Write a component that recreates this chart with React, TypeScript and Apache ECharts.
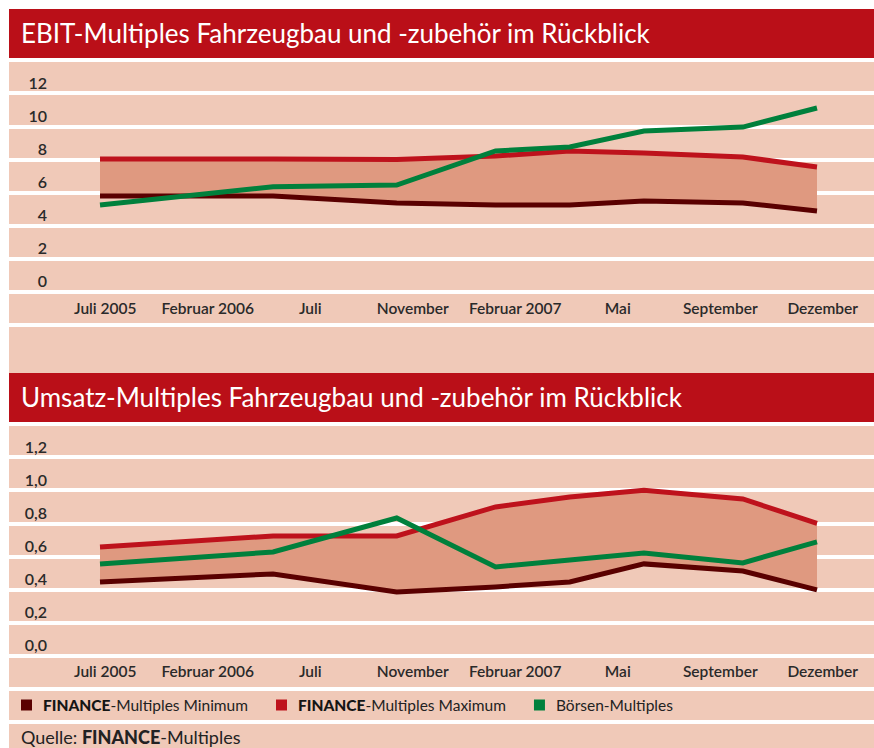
import React, { useEffect, useRef } from 'react';
import * as echarts from 'echarts';

// Category labels on the x axis (evenly spaced in the original)
const categories = ['Juli 2005', 'Februar 2006', 'Juli', 'November', 'Februar 2007', 'Mai', 'September', 'Dezember'];
// Months since Juli 2005 at which the data points were taken
const months = [0, 7, 12, 16, 19, 22, 26, 29];

// EBIT-Multiples
const ebitMin = [5.79, 5.79, 5.37, 5.25, 5.25, 5.49, 5.37, 4.88];
const ebitMax = [8.02, 8.02, 8.0, 8.2, 8.51, 8.38, 8.14, 7.54];
const ebitBoerse = [5.25, 6.35, 6.45, 8.51, 8.75, 9.71, 9.95, 11.1];

// Umsatz-Multiples
const umsatzMin = [0.446, 0.494, 0.386, 0.416, 0.446, 0.555, 0.512, 0.398];
const umsatzMax = [0.657, 0.724, 0.724, 0.899, 0.959, 1.0, 0.947, 0.8];
const umsatzBoerse = [0.555, 0.627, 0.832, 0.537, 0.579, 0.621, 0.561, 0.688];

// Visible tick labels
const ebitTicks = [0, 2, 4, 6, 8, 10, 12];
const umsatzTicks = [0, 0.2, 0.4, 0.6, 0.8, 1.0, 1.2];

const titleTop = 'EBIT-Multiples Fahrzeugbau und -zubehör im Rückblick';
const titleBottom = 'Umsatz-Multiples Fahrzeugbau und -zubehör im Rückblick';
const nameMin = 'FINANCE-Multiples Minimum';
const nameMax = 'FINANCE-Multiples Maximum';
const nameBoerse = 'Börsen-Multiples';

const PINK = '#F0C9B8';
const BAND = '#DF9980';
const TITLE_RED = '#BA0F18';
const RED = '#BE121C';
const DARK = '#5A0000';
const GREEN = '#00803C';
const TEXT = '#2a2a2a';
const FONT = 'Lato';

const pairs = (vals: number[]) => months.map((m, i) => [m, vals[i]]);

function lineSeries(name: string, vals: number[], color: string, idx: number, z: number) {
  return {
    name,
    type: 'line',
    xAxisIndex: idx,
    yAxisIndex: idx,
    data: pairs(vals),
    symbol: 'none',
    color,
    itemStyle: { color },
    lineStyle: { color, width: 5, cap: 'butt', join: 'miter' },
    z,
  };
}

function bandSeries(lo: number[], hi: number[], idx: number) {
  return {
    name: '_band' + idx,
    type: 'custom',
    xAxisIndex: idx,
    yAxisIndex: idx,
    data: [[months[0], lo[0]]],
    silent: true,
    z: 1,
    renderItem: (_params: any, api: any) => {
      const top = months.map((m, i) => api.coord([m, hi[i]]));
      const bottom = months.map((m, i) => api.coord([m, lo[i]])).reverse();
      return {
        type: 'polygon',
        shape: { points: top.concat(bottom) },
        style: { fill: BAND },
      };
    },
  };
}

const PX_PER_MONTH = (817 - 100) / 29;
const X_MIN = (9 - 100) / PX_PER_MONTH;
const X_MAX = 29 + (874 - 817) / PX_PER_MONTH;

function dataX(gridIndex: number) {
  return { type: 'value', gridIndex, min: X_MIN, max: X_MAX, show: false };
}

function labelX(gridIndex: number) {
  return {
    type: 'category',
    gridIndex,
    data: categories,
    boundaryGap: true,
    position: 'bottom',
    axisLine: { show: false },
    axisTick: { show: false },
    splitLine: { show: false },
    axisLabel: {
      interval: 0,
      margin: 0,
      color: TEXT,
      fontFamily: FONT,
      fontSize: 15.5,
      fontWeight: 600,
    },
  };
}

function yAxisFor(gridIndex: number, min: number, max: number, interval: number, fmt: (v: number) => string) {
  return {
    type: 'value',
    gridIndex,
    min,
    max,
    interval,
    axisLine: { show: false },
    axisTick: { show: false },
    splitLine: { show: true, lineStyle: { color: '#ffffff', width: 4 } },
    axisLabel: {
      inside: true,
      align: 'right',
      verticalAlign: 'bottom',
      padding: [0, 0, 3, 0],
      margin: 38,
      color: TEXT,
      fontFamily: FONT,
      fontSize: 16,
      fontWeight: 600,
      formatter: fmt,
    },
  };
}

const richB = { fontFamily: FONT, fontWeight: 900, color: '#151515' };

export default function App() {
  const ref = useRef<HTMLDivElement>(null);

  useEffect(() => {
    if (!ref.current) return;
    const chart = echarts.init(ref.current, undefined, { renderer: 'svg' });

    const option = {
      animation: false,
      backgroundColor: PINK,
      grid: [
        { left: 0, right: 0, top: 51, height: 265 },
        { left: 0, right: 0, top: 415, height: 298 },
        { left: 45, right: 0, top: 271, height: 20 },
        { left: 45, right: 0, top: 634, height: 20 },
      ],
      xAxis: [dataX(0), dataX(1), labelX(2), labelX(3)],
      yAxis: [
        yAxisFor(0, -2, 14, 2, (v: number) => (ebitTicks.includes(Math.round(v)) ? String(Math.round(v)) : '')),
        yAxisFor(1, -0.4, 1.4, 0.2, (v: number) => {
          const r = Math.round(v * 10) / 10;
          return umsatzTicks.some((t) => Math.abs(t - r) < 1e-6) ? r.toFixed(1).replace('.', ',') : '';
        }),
        { type: 'value', gridIndex: 2, show: false },
        { type: 'value', gridIndex: 3, show: false },
      ],
      legend: {
        data: [nameMin, nameMax, nameBoerse],
        left: 12,
        top: 688,
        icon: 'rect',
        itemWidth: 11,
        itemHeight: 11,
        itemGap: 28,
        padding: 0,
        selectedMode: false,
        formatter: (name: string) => (name.startsWith('FINANCE') ? '{b|FINANCE}' + name.slice(7) : name),
        textStyle: {
          fontFamily: FONT,
          fontSize: 15.5,
          color: '#222',
          padding: [0, 0, 0, 6],
          rich: { b: { ...richB, fontSize: 15.5 } },
        },
      },
      graphic: [
        { type: 'rect', shape: { x: 0, y: 0, width: 865, height: 49 }, style: { fill: TITLE_RED }, silent: true },
        { type: 'rect', shape: { x: 0, y: 364, width: 865, height: 49 }, style: { fill: TITLE_RED }, silent: true },
        {
          type: 'text',
          x: 12,
          y: 24,
          style: { text: titleTop, fill: '#fff', font: `26px ${FONT}`, verticalAlign: 'middle', align: 'left' },
          silent: true,
        },
        {
          type: 'text',
          x: 12,
          y: 388,
          style: { text: titleBottom, fill: '#fff', font: `26px ${FONT}`, verticalAlign: 'middle', align: 'left' },
          silent: true,
        },
        {
          type: 'text',
          x: 12,
          y: 728,
          style: {
            text: 'Quelle: {b|FINANCE}-Multiples',
            fill: '#222',
            font: `18px ${FONT}`,
            verticalAlign: 'middle',
            align: 'left',
            rich: { b: { ...richB, fontSize: 18 } },
          },
          silent: true,
        },
      ],
      series: [
        bandSeries(ebitMin, ebitMax, 0),
        lineSeries(nameMin, ebitMin, DARK, 0, 3),
        lineSeries(nameMax, ebitMax, RED, 0, 4),
        lineSeries(nameBoerse, ebitBoerse, GREEN, 0, 5),
        bandSeries(umsatzMin, umsatzMax, 1),
        lineSeries(nameMin, umsatzMin, DARK, 1, 3),
        lineSeries(nameMax, umsatzMax, RED, 1, 4),
        lineSeries(nameBoerse, umsatzBoerse, GREEN, 1, 5),
      ],
    };

    chart.setOption(option as any);
    return () => chart.dispose();
  }, []);

  return (
    <div
      ref={ref}
      style={{ position: 'absolute', left: 9, top: 9, width: 865, height: 739 }}
    />
  );
}
